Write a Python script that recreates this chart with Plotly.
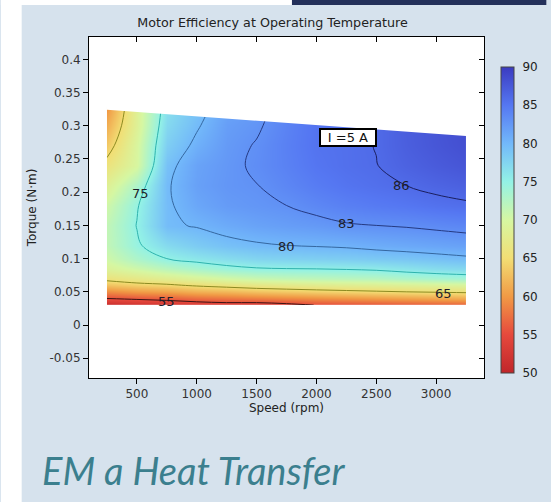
import plotly.graph_objects as go

# ---------------- data ----------------
speed = [250, 500, 750, 1000, 1250, 1500, 1750, 2000, 2250, 2500, 2750, 3000, 3250]
torque = [0.03, 0.04, 0.05, 0.06, 0.07, 0.085, 0.10, 0.12, 0.15, 0.18, 0.21, 0.24, 0.27, 0.30, 0.33]

# efficiency (%) columns per speed, rows per torque value
eff_by_speed = {
    250:  [51.0, 55.0, 59.0, 63.0, 66.0, 69.0, 70.5, 71.5, 71.5, 70.5, 68.5, 66.0, 63.5, 61.5, 59.5],
    500:  [52.0, 55.5, 60.0, 64.0, 67.0, 70.5, 73.0, 74.6, 75.1, 74.7, 73.0, 69.8, 69.6, 68.7, 68.6],
    750:  [52.5, 56.0, 60.5, 64.5, 68.0, 72.0, 75.0, 77.0, 79.6, 79.6, 79.7, 79.2, 78.1, 77.2, 76.4],
    1000: [53.0, 57.0, 61.5, 65.5, 69.0, 73.2, 76.0, 78.3, 80.2, 81.3, 81.8, 81.6, 80.6, 79.7, 78.9],
    1250: [53.5, 57.5, 62.0, 66.3, 70.0, 74.2, 76.8, 79.2, 81.0, 82.2, 82.6, 82.5, 82.3, 82.0, 81.3],
    1500: [53.2, 58.0, 62.8, 67.0, 70.8, 74.8, 77.5, 79.7, 81.6, 82.6, 82.95, 83.3, 83.15, 82.7, 82.3],
    1750: [54.0, 58.5, 63.3, 67.5, 71.3, 75.0, 77.8, 80.0, 82.0, 83.0, 83.8, 84.2, 84.3, 84.1, 83.8],
    2000: [55.1, 59.0, 63.8, 67.9, 71.6, 75.1, 78.0, 80.2, 82.3, 83.7, 84.6, 85.1, 85.3, 85.3, 85.1],
    2250: [55.4, 59.4, 64.2, 68.2, 71.9, 75.3, 78.2, 80.4, 82.8, 84.3, 85.2, 85.6, 85.6, 85.6, 85.5],
    2500: [55.7, 59.8, 64.6, 68.5, 72.1, 75.6, 78.5, 80.8, 83.0, 84.7, 85.6, 85.95, 86.05, 86.0, 85.9],
    2750: [56.0, 60.2, 65.0, 68.8, 72.8, 76.2, 78.8, 81.1, 83.2, 85.0, 86.0, 86.7, 87.0, 87.1, 87.0],
    3000: [56.3, 60.6, 65.3, 69.2, 73.2, 76.8, 79.2, 81.4, 83.5, 85.4, 86.5, 87.3, 87.7, 87.8, 87.8],
    3250: [56.6, 61.0, 65.6, 69.5, 73.6, 77.2, 79.6, 81.7, 83.8, 85.7, 86.9, 87.8, 88.3, 88.5, 88.5],
}

# maximum torque limit (top edge of operating region)
edge_speed = [250, 3250]
edge_torque_max = [0.324, 0.2845]

contour_levels = [55, 65, 75, 80, 83, 86]
contour_colors = ["#3a1414", "#8c8a22", "#2fb2ad", "#35679f", "#253a82", "#1b1f5e"]

# contour label positions (speed, torque)
label_text = ["75", "55", "80", "83", "86", "65"]
label_speed = [533, 749, 1746, 2252, 2709, 3058]
label_torque = [0.1986, 0.036, 0.1188, 0.1535, 0.2107, 0.048]

x_ticks = [500, 1000, 1500, 2000, 2500, 3000]
y_ticks = [-0.05, 0, 0.05, 0.1, 0.15, 0.2, 0.25, 0.3, 0.35, 0.4]
y_ticktext = ["-0.05", "0", "0.05", "0.1", "0.15", "0.2", "0.25", "0.3", "0.35", "0.4"]
cbar_ticks = [50, 55, 60, 65, 70, 75, 80, 85, 90]

# ---------------- figure ----------------
z = [[eff_by_speed[s][i] for s in speed] for i in range(len(torque))]

cscale = [
    [0.0, "#c0262a"],
    [0.125, "#e6493d"],
    [0.25, "#f19a45"],
    [0.375, "#f2de74"],
    [0.5, "#d6f7a2"],
    [0.625, "#93f2e6"],
    [0.75, "#72b8fa"],
    [0.875, "#5577f2"],
    [1.0, "#3b3bc0"],
]

FONT = "DejaVu Sans"
BG = "#d6e2ed"
fig = go.Figure()

fig.add_trace(go.Contour(
    x=speed, y=torque, z=z,
    colorscale=cscale, zmin=50, zmax=90,
    contours=dict(coloring="heatmap", showlines=False, start=50, end=90, size=5),
    line=dict(width=0),
    hoverinfo="skip",
    colorbar=dict(
        x=(505 - 89) / 399, xanchor="left", xref="paper",
        y=(378 - 220) / 341, yanchor="middle",
        lenmode="pixels", len=306, thickness=13,
        outlinewidth=1, outlinecolor="#444",
        tickvals=cbar_ticks, ticks="outside", ticklen=6, tickcolor=BG,
        tickfont=dict(family=FONT, size=12, color="#222"),
        ypad=0, xpad=0,
    ),
))

for lvl, col in zip(contour_levels, contour_colors):
    fig.add_trace(go.Contour(
        x=speed, y=torque, z=z,
        autocontour=False,
        contours=dict(coloring="none", start=lvl, end=lvl, size=1),
        line=dict(color=col, width=1, smoothing=1),
        showscale=False, hoverinfo="skip",
    ))

# white mask above the max-torque edge
fig.add_trace(go.Scatter(
    x=[edge_speed[0], edge_speed[1], edge_speed[1] + 20, edge_speed[0] - 20],
    y=[edge_torque_max[0], edge_torque_max[1], 0.345, 0.345],
    fill="toself", fillcolor="white", mode="lines",
    line=dict(width=0, color="white"), hoverinfo="skip", showlegend=False,
))

# mirrored axes (ticks inside on top/right)
fig.add_trace(go.Scatter(x=[None], y=[None], xaxis="x2", yaxis="y2",
                         showlegend=False, hoverinfo="skip"))

for t, sx, ty in zip(label_text, label_speed, label_torque):
    fig.add_annotation(x=sx, y=ty, text=t, showarrow=False,
                       font=dict(family=FONT, size=13, color="#1e1e2a"))

fig.add_annotation(x=2261, y=0.283, text="I =5 A", showarrow=False,
                   font=dict(family=FONT, size=13, color="#111"),
                   width=52, height=13, align="center",
                   bgcolor="white", bordercolor="black", borderwidth=2, borderpad=1)

fig.add_annotation(xref="paper", yref="paper", x=(40 - 89) / 399, y=(378 - 470) / 341,
                   xanchor="left", yanchor="middle", text="<i>EM a Heat Transfer</i>",
                   showarrow=False, font=dict(family="Lato", size=38, color="#3b7f8e"))

# background decorations: white strips and navy bar
fig.add_shape(type="rect", xref="paper", yref="paper", x0=-89 / 399, x1=(21 - 89) / 399,
              y0=(378 - 502) / 341, y1=378 / 341, fillcolor="white", line_width=0, layer="below")
fig.add_shape(type="rect", xref="paper", yref="paper", x0=-89 / 399, x1=(551 - 89) / 399,
              y0=(378 - 5) / 341, y1=378 / 341, fillcolor="white", line_width=0, layer="below")
fig.add_shape(type="rect", xref="paper", yref="paper", x0=(294 - 89) / 399, x1=(551 - 89) / 399,
              y0=(378 - 5) / 341, y1=378 / 341, fillcolor="#23305a", line_width=0, layer="below")

xr = [100, 3400]
yr = [-0.0797, 0.4336]
axis_common = dict(showgrid=False, zeroline=False, linecolor="black", linewidth=1,
                   tickcolor="black", tickwidth=1, ticklen=5)

fig.update_layout(
    width=551, height=502,
    margin=dict(l=89, r=63, t=37, b=124),
    paper_bgcolor=BG, plot_bgcolor="white",
    showlegend=False,
    title=dict(text="Motor Efficiency at Operating Temperature", x=(272.5 / 551), xanchor="center",
               y=1 - 23 / 502, yanchor="middle",
               font=dict(family=FONT, size=12.7, color="#222")),
    xaxis=dict(range=xr, tickvals=x_ticks, ticks="outside", **axis_common,
               title=dict(text="Speed (rpm)", font=dict(family=FONT, size=12, color="#222"), standoff=2),
               tickfont=dict(family=FONT, size=12, color="#333")),
    yaxis=dict(range=yr, tickvals=y_ticks, ticktext=y_ticktext, ticks="outside", **axis_common,
               title=dict(text="Torque (N·m)", font=dict(family=FONT, size=12, color="#222"), standoff=10),
               tickfont=dict(family=FONT, size=12, color="#333")),
    xaxis2=dict(range=xr, overlaying="x", side="top", tickvals=x_ticks, ticks="inside",
                showticklabels=False, anchor="y", **axis_common),
    yaxis2=dict(range=yr, overlaying="y", side="right", tickvals=y_ticks, ticks="inside",
                showticklabels=False, anchor="x", **axis_common),
)

fig.write_html("out.html")
